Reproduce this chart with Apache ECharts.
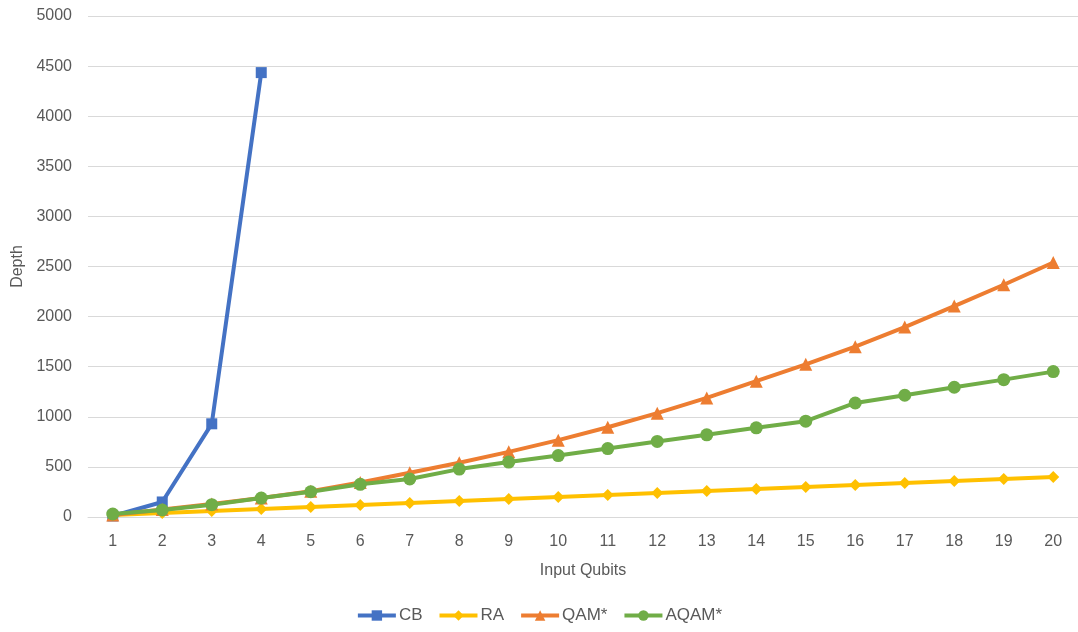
<!DOCTYPE html>
<html>
<head>
<meta charset="utf-8">
<script src="https://cdn.jsdelivr.net/npm/echarts@6/dist/echarts.min.js"></script>
<style>
  html, body { margin: 0; padding: 0; background: #fff; }
  #chart { width: 1078px; height: 632px; }
</style>
</head>
<body>
<div id="chart"></div>
<script>
// Circuit depth versus number of input qubits
const qubits = ['1','2','3','4','5','6','7','8','9','10','11','12','13','14','15','16','17','18','19','20'];
const cb   = [10, 150, 930, 4435];
const ra   = [20, 40, 60, 80, 100, 120, 140, 160, 180, 200, 220, 240, 260, 280, 300, 320, 340, 360, 380, 400];
const qam  = [20, 75, 130, 190, 258, 345, 441, 541, 650, 767, 896, 1036, 1188, 1355, 1524, 1700, 1895, 2105, 2318, 2540];
const aqam = [30, 70, 123, 189, 252, 326, 379, 478, 548, 613, 683, 754, 820, 890, 956, 1138, 1215, 1295, 1371, 1451];

const textColor = '#595959';
const font = 'Liberation Sans, Arial, sans-serif';

function lineSeries(name, data, color, symbol, size) {
  return {
    name, type: 'line', data,
    symbol, symbolSize: size,
    lineStyle: { color, width: 4 },
    itemStyle: { color },
    emphasis: { disabled: true },
    animation: false
  };
}

const chart = echarts.init(document.getElementById('chart'));
chart.setOption({
  backgroundColor: '#fff',
  textStyle: { fontFamily: font },
  grid: { left: 88, right: 0, top: 16, bottom: 115 },
  legend: {
    bottom: 3,
    left: 'center',
    itemWidth: 38, itemHeight: 13, itemGap: 15,
    lineStyle: { width: 4 },
    textStyle: { color: textColor, fontSize: 17, fontFamily: font, padding: [0, 0, 0, -2] },
    data: ['CB', 'RA', 'QAM*', 'AQAM*']
  },
  xAxis: {
    type: 'category',
    data: qubits,
    boundaryGap: true,
    name: 'Input Qubits',
    nameLocation: 'middle',
    nameGap: 46,
    nameTextStyle: { color: textColor, fontSize: 16 },
    axisLine: { lineStyle: { color: '#d9d9d9' } },
    axisTick: { show: false },
    axisLabel: { color: textColor, fontSize: 16, margin: 17 }
  },
  yAxis: {
    type: 'value',
    min: 0, max: 5000, interval: 500,
    name: 'Depth',
    nameLocation: 'middle',
    nameGap: 62,
    nameTextStyle: { color: textColor, fontSize: 16 },
    axisLine: { show: false },
    axisTick: { show: false },
    axisLabel: { color: textColor, fontSize: 16, margin: 16, formatter: v => String(v) },
    splitLine: { lineStyle: { color: '#d9d9d9', width: 1 } }
  },
  series: [
    lineSeries('CB', cb, '#4472C4', 'rect', 11),
    lineSeries('RA', ra, '#FFC000', 'diamond', 12),
    lineSeries('QAM*', qam, '#ED7D31', 'triangle', 13),
    lineSeries('AQAM*', aqam, '#70AD47', 'circle', 13)
  ]
});
</script>
</body>
</html>
